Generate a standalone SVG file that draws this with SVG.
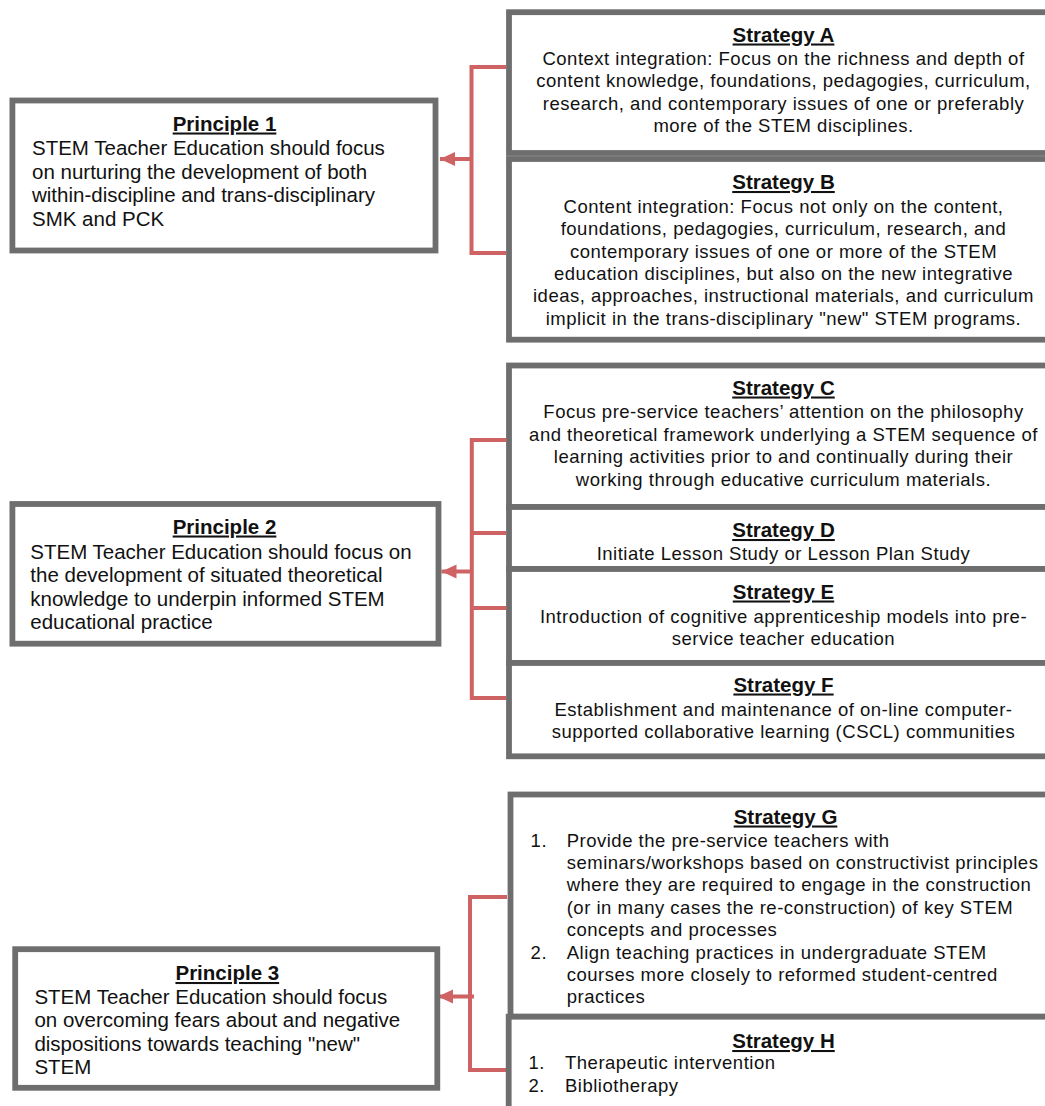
<svg xmlns="http://www.w3.org/2000/svg" width="1045" height="1106" viewBox="0 0 1045 1106">
<defs>
<style>
.box{fill:#ffffff;stroke:#6e6e6e;stroke-width:5.8}
.pt{font-family:"Liberation Sans",Arial,sans-serif;font-size:20.5px;font-weight:bold;text-decoration:underline;fill:#111;text-anchor:middle}
.pb{font-family:"Liberation Sans",Arial,sans-serif;font-size:20.5px;fill:#111}
.st{font-family:"Liberation Sans",Arial,sans-serif;font-size:20.5px;font-weight:bold;text-decoration:underline;fill:#111;text-anchor:middle}
.sb{font-family:"Liberation Sans",Arial,sans-serif;font-size:18.5px;letter-spacing:0.5px;fill:#111;text-anchor:middle}
.sl{font-family:"Liberation Sans",Arial,sans-serif;font-size:18.5px;letter-spacing:0.5px;fill:#111}
.con{fill:none;stroke:#cf6262;stroke-width:4}
</style>
<marker id="ah" markerUnits="userSpaceOnUse" markerWidth="16" markerHeight="16" viewBox="0 0 16 16" refX="15" refY="8" orient="auto">
<path d="M0,1 L15,8 L0,15 Z" fill="#cf6262"/>
</marker>
</defs>
<rect width="1045" height="1106" fill="#ffffff"/>

<g id="connectors">
<path class="con" d="M506,67 H471.5 V253 H506"/>
<path class="con" d="M471.5,159 H440" marker-end="url(#ah)"/>
<path class="con" d="M506,440 H471.8 V698 H506 M471.8,533 H506 M471.8,608 H506"/>
<path class="con" d="M471.8,571.5 H441.5" marker-end="url(#ah)"/>
<path class="con" d="M507,897 H470 V1070 H506"/>
<path class="con" d="M474,996.5 H438" marker-end="url(#ah)"/>
</g>

<g id="principle1">
<rect class="box" x="12.4" y="100.5" width="423.1" height="150"/>
<text class="pt" x="224.5" y="130.5">Principle 1</text>
<text class="pb" x="32" y="155">STEM Teacher Education should focus</text>
<text class="pb" x="32" y="178.5">on nurturing the development of both</text>
<text class="pb" x="32" y="202">within-discipline and trans-disciplinary</text>
<text class="pb" x="32" y="225.5">SMK and PCK</text>
</g>

<g id="principle2">
<rect class="box" x="12.4" y="504" width="426.1" height="139.7"/>
<text class="pt" x="224.5" y="533.5">Principle 2</text>
<text class="pb" x="30.3" y="558.5">STEM Teacher Education should focus on</text>
<text class="pb" x="30.3" y="582">the development of situated theoretical</text>
<text class="pb" x="30.3" y="605.5">knowledge to underpin informed STEM</text>
<text class="pb" x="30.3" y="629">educational practice</text>
</g>

<g id="principle3">
<rect class="box" x="15.2" y="949.2" width="422.1" height="138.6"/>
<text class="pt" x="227.3" y="980">Principle 3</text>
<text class="pb" x="34.4" y="1003.5">STEM Teacher Education should focus</text>
<text class="pb" x="34.4" y="1027">on overcoming fears about and negative</text>
<text class="pb" x="34.4" y="1050.5">dispositions towards teaching "new"</text>
<text class="pb" x="34.4" y="1074">STEM</text>
</g>

<g id="strategyA">
<rect class="box" x="509" y="12.2" width="560" height="140.8"/>
<text class="st" x="783.5" y="41.5">Strategy A</text>
<text class="sb" x="783.5" y="64.5">Context integration: Focus on the richness and depth of</text>
<text class="sb" x="783.5" y="87">content knowledge, foundations, pedagogies, curriculum,</text>
<text class="sb" x="783.5" y="109.5">research, and contemporary issues of one or preferably</text>
<text class="sb" x="783.5" y="132">more of the STEM disciplines.</text>
</g>

<g id="strategyB">
<rect class="box" x="509" y="159" width="560" height="180.7"/>
<text class="st" x="783.5" y="189">Strategy B</text>
<text class="sb" x="783.5" y="213">Content integration: Focus not only on the content,</text>
<text class="sb" x="783.5" y="235.3">foundations, pedagogies, curriculum, research, and</text>
<text class="sb" x="783.5" y="257.6">contemporary issues of one or more of the STEM</text>
<text class="sb" x="783.5" y="280">education disciplines, but also on the new integrative</text>
<text class="sb" x="783.5" y="302.3">ideas, approaches, instructional materials, and curriculum</text>
<text class="sb" x="783.5" y="324.6">implicit in the trans-disciplinary "new" STEM programs.</text>
</g>

<g id="strategyC">
<rect class="box" x="509" y="365.5" width="560" height="141.5"/>
<text class="st" x="783.5" y="394.5">Strategy C</text>
<text class="sb" x="783.5" y="418">Focus pre-service teachers’ attention on the philosophy</text>
<text class="sb" x="783.5" y="440.5">and theoretical framework underlying a STEM sequence of</text>
<text class="sb" x="783.5" y="463">learning activities prior to and continually during their</text>
<text class="sb" x="783.5" y="485.5">working through educative curriculum materials.</text>
</g>

<g id="strategyD">
<rect class="box" x="509" y="507" width="560" height="62"/>
<text class="st" x="783.5" y="537">Strategy D</text>
<text class="sb" x="783.5" y="559.5">Initiate Lesson Study or Lesson Plan Study</text>
</g>

<g id="strategyE">
<rect class="box" x="509" y="569" width="560" height="94"/>
<text class="st" x="783.5" y="598.5">Strategy E</text>
<text class="sb" x="783.5" y="623">Introduction of cognitive apprenticeship models into pre-</text>
<text class="sb" x="783.5" y="645">service teacher education</text>
</g>

<g id="strategyF">
<rect class="box" x="509" y="663" width="560" height="93.3"/>
<text class="st" x="783.5" y="691.5">Strategy F</text>
<text class="sb" x="783.5" y="715.5">Establishment and maintenance of on-line computer-</text>
<text class="sb" x="783.5" y="738">supported collaborative learning (CSCL) communities</text>
</g>

<g id="strategyG">
<rect class="box" x="510.5" y="794.5" width="560" height="222.2"/>
<text class="st" x="785.5" y="823.5">Strategy G</text>
<text class="sl" x="530.6" y="846.5">1.</text>
<text class="sl" x="566.7" y="846.5">Provide the pre-service teachers with</text>
<text class="sl" x="566.7" y="868.9">seminars/workshops based on constructivist principles</text>
<text class="sl" x="566.7" y="891.3">where they are required to engage in the construction</text>
<text class="sl" x="566.7" y="913.7">(or in many cases the re-construction) of key STEM</text>
<text class="sl" x="566.7" y="936.1">concepts and processes</text>
<text class="sl" x="530.6" y="958.5">2.</text>
<text class="sl" x="566.7" y="958.5">Align teaching practices in undergraduate STEM</text>
<text class="sl" x="566.7" y="980.9">courses more closely to reformed student-centred</text>
<text class="sl" x="566.7" y="1003.3">practices</text>
</g>

<g id="strategyH">
<rect class="box" x="508.7" y="1016.7" width="560" height="100"/>
<text class="st" x="783.5" y="1048">Strategy H</text>
<text class="sl" x="528.5" y="1069">1.</text>
<text class="sl" x="565" y="1069">Therapeutic intervention</text>
<text class="sl" x="528.5" y="1091.5">2.</text>
<text class="sl" x="565" y="1091.5">Bibliotherapy</text>
</g>
</svg>
